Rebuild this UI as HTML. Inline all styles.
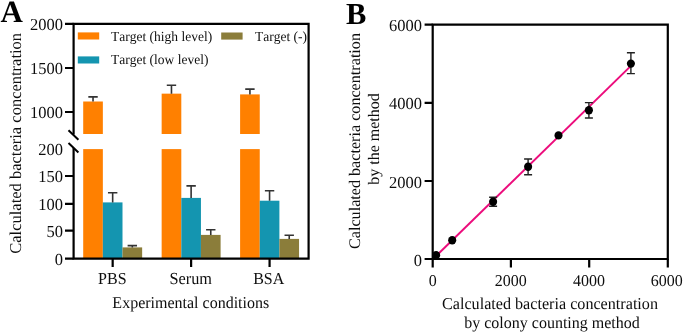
<!DOCTYPE html>
<html>
<head>
<meta charset="utf-8">
<style>
html,body{margin:0;padding:0;background:#fff;}
body{width:685px;height:334px;overflow:hidden;}
svg{display:block;will-change:transform;}
text{font-family:"Liberation Serif",serif;fill:#0d0d0d;text-rendering:geometricPrecision;font-kerning:none;}
.pl{font-weight:bold;fill:#000;}
</style>
</head>
<body>
<svg width="685" height="334" viewBox="0 0 685 334">
<text class="pl" x="0.6" y="22" font-size="31">A</text>
<rect x="83.20" y="101.50" width="19.65" height="32.50" fill="#ff8000"/>
<rect x="83.20" y="149.10" width="19.65" height="109.50" fill="#ff8000"/>
<rect x="102.85" y="202.40" width="19.65" height="56.20" fill="#1495b0"/>
<rect x="122.50" y="247.40" width="19.65" height="11.20" fill="#8b7d3a"/>
<rect x="161.65" y="93.65" width="19.65" height="40.35" fill="#ff8000"/>
<rect x="161.65" y="149.10" width="19.65" height="109.50" fill="#ff8000"/>
<rect x="181.30" y="197.90" width="19.65" height="60.70" fill="#1495b0"/>
<rect x="200.95" y="234.90" width="19.65" height="23.70" fill="#8b7d3a"/>
<rect x="240.10" y="94.40" width="19.65" height="39.60" fill="#ff8000"/>
<rect x="240.10" y="149.10" width="19.65" height="109.50" fill="#ff8000"/>
<rect x="259.75" y="200.70" width="19.65" height="57.90" fill="#1495b0"/>
<rect x="279.40" y="238.90" width="19.65" height="19.70" fill="#8b7d3a"/>
<g stroke="#333" stroke-width="1.6" fill="none">
<path d="M93.03 101.50V96.90M88.33 96.90H97.73"/>
<path d="M112.67 202.40V192.70M107.97 192.70H117.38"/>
<path d="M132.32 247.40V245.60M127.62 245.60H137.02"/>
<path d="M171.47 93.65V85.30M166.78 85.30H176.17"/>
<path d="M191.12 197.90V185.90M186.43 185.90H195.82"/>
<path d="M210.77 234.90V229.80M206.07 229.80H215.47"/>
<path d="M249.93 94.40V89.10M245.23 89.10H254.62"/>
<path d="M269.57 200.70V190.80M264.88 190.80H274.27"/>
<path d="M289.23 238.90V235.20M284.53 235.20H293.93"/>
</g>
<g stroke="#000" stroke-width="2.2" fill="none">
<path d="M73.60 134.5V23.95H308.60V258.60H73.60V148"/>
<path d="M65 23.80H73.60M65 68.00H73.60M65 112.00H73.60M65 176.00H73.60M65 203.80H73.60M65 230.70H73.60M65 258.60H73.60"/>
<path d="M112.67 258.60V267M191.12 258.60V267M269.58 258.60V267"/>
<path d="M68.5 130.2L78.4 139.8M68.5 143L78.4 152.5" stroke-width="2"/>
</g>
<text x="63.00" y="29.70" font-size="16.50" text-anchor="end" transform="matrix(1 0 0 1.0200 0 -0.5940)">2000</text>
<text x="63.00" y="73.90" font-size="16.50" text-anchor="end" transform="matrix(1 0 0 1.0200 0 -1.4780)">1500</text>
<text x="63.00" y="117.90" font-size="16.50" text-anchor="end" transform="matrix(1 0 0 1.0200 0 -2.3580)">1000</text>
<text x="63.00" y="155.30" font-size="16.50" text-anchor="end" transform="matrix(1 0 0 1.0200 0 -3.1060)">200</text>
<text x="63.00" y="181.90" font-size="16.50" text-anchor="end" transform="matrix(1 0 0 1.0200 0 -3.6380)">150</text>
<text x="63.00" y="209.70" font-size="16.50" text-anchor="end" transform="matrix(1 0 0 1.0200 0 -4.1940)">100</text>
<text x="63.00" y="236.60" font-size="16.50" text-anchor="end" transform="matrix(1 0 0 1.0200 0 -4.7320)">50</text>
<text x="63.00" y="264.50" font-size="16.50" text-anchor="end" transform="matrix(1 0 0 1.0200 0 -5.2900)">0</text>
<text x="112.30" y="283.80" font-size="16.00" text-anchor="middle" transform="matrix(1 0 0 1.0400 0 -11.3520)">PBS</text>
<text x="190.70" y="283.80" font-size="16.30" text-anchor="middle" transform="matrix(1 0 0 1.0400 0 -11.3520)">Serum</text>
<text x="268.70" y="283.80" font-size="16.00" text-anchor="middle" transform="matrix(1 0 0 1.0400 0 -11.3520)">BSA</text>
<text x="190.80" y="308.30" font-size="16.00" text-anchor="middle" transform="matrix(1 0 0 1.0300 0 -9.2490)">Experimental conditions</text>
<text font-size="16.50" text-anchor="middle" transform="translate(21.20 143.30) rotate(-90)">Calculated bacteria concentration</text>
<rect x="77.8" y="32.4" width="21.4" height="7.1" fill="#ff8000"/>
<rect x="77.8" y="56.4" width="21.4" height="7.1" fill="#1495b0"/>
<rect x="221.2" y="32.5" width="21.4" height="7.1" fill="#8b7d3a"/>
<text x="111.00" y="40.60" font-size="13.50" transform="matrix(1 0 0 1.0300 0 -1.2180)">Target (high level)</text>
<text x="111.00" y="64.40" font-size="13.50" transform="matrix(1 0 0 1.0300 0 -1.9320)">Target (low level)</text>
<text x="255.00" y="40.60" font-size="13.50" transform="matrix(1 0 0 1.0300 0 -1.2180)">Target (-)</text>
<text class="pl" x="346" y="24.2" font-size="30.5">B</text>
<g stroke="#000" stroke-width="2.2" fill="none">
<path d="M432.70 24.60H667.80V259.00H432.70Z"/>
<path d="M424.6 24.60H432.70M424.6 102.80H432.70M424.6 181.00H432.70M424.6 259.00H432.70"/>
<path d="M432.70 259.00V267.4M510.90 259.00V267.4M589.20 259.00V267.4M667.80 259.00V267.4"/>
</g>
<text x="422.00" y="31.20" font-size="16.50" text-anchor="end" transform="matrix(1 0 0 1.0200 0 -0.6240)">6000</text>
<text x="422.00" y="109.40" font-size="16.50" text-anchor="end" transform="matrix(1 0 0 1.0200 0 -2.1880)">4000</text>
<text x="422.00" y="187.60" font-size="16.50" text-anchor="end" transform="matrix(1 0 0 1.0200 0 -3.7520)">2000</text>
<text x="422.00" y="265.60" font-size="16.50" text-anchor="end" transform="matrix(1 0 0 1.0200 0 -5.3120)">0</text>
<text x="432.70" y="285.60" font-size="16.00" text-anchor="middle" transform="matrix(1 0 0 1.0300 0 -8.5680)">0</text>
<text x="510.80" y="285.60" font-size="16.00" text-anchor="middle" transform="matrix(1 0 0 1.0300 0 -8.5680)">2000</text>
<text x="588.90" y="285.60" font-size="16.00" text-anchor="middle" transform="matrix(1 0 0 1.0300 0 -8.5680)">4000</text>
<text x="666.70" y="285.60" font-size="16.00" text-anchor="middle" transform="matrix(1 0 0 1.0300 0 -8.5680)">6000</text>
<text x="550.00" y="309.30" font-size="16.15" text-anchor="middle" transform="matrix(1 0 0 1.0300 0 -9.2790)">Calculated bacteria concentration</text>
<text x="552.00" y="327.70" font-size="16.00" text-anchor="middle" transform="matrix(1 0 0 1.0300 0 -9.8310)">by colony counting method</text>
<text font-size="16.15" text-anchor="middle" transform="translate(359.80 141.00) rotate(-90)">Calculated bacteria concentration</text>
<text font-size="16.00" text-anchor="middle" transform="translate(379.00 139.00) rotate(-90)">by the method</text>
<path d="M436.1 256.0L630.9 65.9" stroke="#ec0c7c" stroke-width="2" fill="none"/>
<g stroke="#222" stroke-width="1.4" fill="none">
<path d="M493.10 197.30V206.20M489.10 197.30H497.10M489.10 206.20H497.10"/>
<path d="M528.10 159.00V174.80M524.10 159.00H532.10M524.10 174.80H532.10"/>
<path d="M588.90 102.60V118.00M584.90 102.60H592.90M584.90 118.00H592.90"/>
<path d="M630.90 52.80V73.60M626.90 52.80H634.90M626.90 73.60H634.90"/>
</g>
<g fill="#000">
<ellipse cx="436.10" cy="255.30" rx="4.05" ry="4.2"/>
<ellipse cx="452.20" cy="240.30" rx="4.05" ry="4.2"/>
<ellipse cx="493.10" cy="201.70" rx="4.05" ry="4.2"/>
<ellipse cx="528.10" cy="166.70" rx="4.05" ry="4.2"/>
<ellipse cx="558.50" cy="135.40" rx="4.05" ry="4.2"/>
<ellipse cx="588.90" cy="110.30" rx="4.05" ry="4.2"/>
<ellipse cx="630.90" cy="63.60" rx="4.05" ry="4.2"/>
</g>
</svg>
</body>
</html>
